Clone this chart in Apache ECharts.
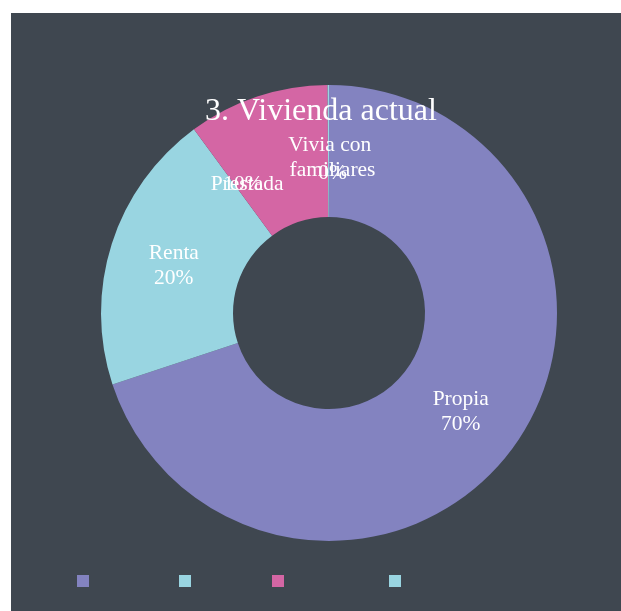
<!DOCTYPE html>
<html>
<head>
<meta charset="utf-8">
<script src="https://cdn.jsdelivr.net/npm/echarts@6/dist/echarts.min.js"></script>
<style>
  html, body { margin: 0; padding: 0; background: #fff; }
  #chart { position: absolute; left: 11px; top: 13px; width: 610px; height: 598px; background: #3f4750; }
</style>
</head>
<body>
<div id="chart"></div>
<script>
const titleText = '3. Vivienda actual'
const categories = ['Propia', 'Renta', 'Prestada', 'Vivia con familiares']
const values = [70, 20, 10, 0.1]
const colors = ['#8383c0', '#99d5e1', '#d466a4', '#99d5e1']

// desplazamiento de etiquetas respecto a la posición 'inside' por defecto
const nameShift = [[-2, -10], [2, -9], [-30, 28], [4, 10]]
const pctShift = [[-2, 15], [2, 16], [-34, 28], [4, 25]]
// posición x de cada cuadro de la leyenda (el texto no se ve)
const legendLeft = [61, 163, 256, 373]

const chart = echarts.init(document.getElementById('chart'))

const data = categories.map((name, i) => ({
  name,
  value: values[i],
  itemStyle: { color: colors[i] },
}))

const labelFont = {
  color: '#ffffff',
  fontFamily: 'Liberation Serif',
  fontSize: 21.5,
  lineHeight: 25,
}

chart.setOption({
  animation: false,
  title: {
    text: titleText,
    left: 305,
    top: 78,
    textAlign: 'center',
    textStyle: {
      color: '#ffffff',
      fontFamily: 'Liberation Serif',
      fontWeight: 'normal',
      fontSize: 32,
      lineHeight: 32,
    },
  },
  legend: categories.map((name, i) => ({
    left: legendLeft[i],
    top: 557,
    itemWidth: 12,
    itemHeight: 12,
    icon: 'rect',
    selectedMode: false,
    textStyle: { color: 'rgba(0,0,0,0)', fontSize: 12 },
    data: [{ name, itemStyle: { color: colors[i] } }],
  })),
  series: [
    {
      type: 'pie',
      center: [318, 300],
      radius: [96, 228],
      startAngle: 90,
      clockwise: true,
      percentPrecision: 0,
      emphasis: { disabled: true },
      label: {
        show: true,
        position: 'inside',
        formatter: '{b}',
        width: 95,
        overflow: 'break',
        ...labelFont,
      },
      labelLine: { show: false },
      labelLayout: (p) => ({ dx: nameShift[p.dataIndex][0], dy: nameShift[p.dataIndex][1] }),
      data,
    },
    {
      type: 'pie',
      center: [318, 300],
      radius: [96, 228],
      startAngle: 90,
      clockwise: true,
      percentPrecision: 0,
      silent: true,
      emphasis: { disabled: true },
      itemStyle: { color: 'rgba(0,0,0,0)' },
      label: {
        show: true,
        position: 'inside',
        formatter: '{d}%',
        ...labelFont,
      },
      labelLine: { show: false },
      labelLayout: (p) => ({ dx: pctShift[p.dataIndex][0], dy: pctShift[p.dataIndex][1] }),
      data: categories.map((name, i) => ({ name, value: values[i], itemStyle: { color: 'rgba(0,0,0,0)' } })),
    },
  ],
})
</script>
</body>
</html>
